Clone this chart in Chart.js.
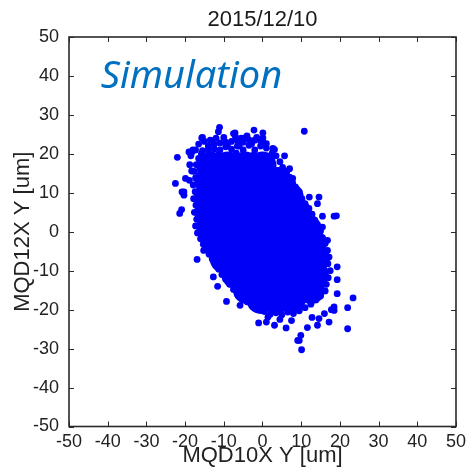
<!DOCTYPE html>
<html>
<head>
<meta charset="utf-8">
<script src="https://cdn.jsdelivr.net/npm/chart.js@4/dist/chart.umd.min.js"></script>
<style>
  html, body { margin: 0; padding: 0; background: #ffffff; }
  #wrap { width: 471px; height: 473px; }
</style>
</head>
<body>
<div id="wrap"><canvas id="c" width="471" height="473"></canvas></div>
<script>
// ---- Data ----
const chartTitle = '2015/12/10';
const annotationText = 'Simulation';
const xAxisLabel = 'MQD10X Y [um]';
const yAxisLabel = 'MQD12X Y [um]';
const tickValues = [-50, -40, -30, -20, -10, 0, 10, 20, 30, 40, 50];

// dense core of the cloud (solid region)
const corePoints = [
  [-13.5,17],[-9,17],[-4.5,17],[0,17],
  [-14,13],[-9.5,13],[-5,13],[-0.5,13],[4,13],
  [-14,9],[-9.5,9],[-5,9],[-0.5,9],[4,9],[7,9],
  [-14,5],[-9.5,5],[-5,5],[-0.5,5],[4,5],[9,5],
  [-13.5,1],[-9,1],[-4.5,1],[0,1],[4.5,1],[9,1],[11.5,1],
  [-12,-3],[-7.5,-3],[-3,-3],[1.5,-3],[6,-3],[10.5,-3],[13,-3],
  [-10,-7],[-5.5,-7],[-1,-7],[3.5,-7],[8,-7],[12.5,-7],[13.8,-7],
  [-7,-11],[-2.5,-11],[2,-11],[6.5,-11],[11,-11],[13.5,-11],
  [-4,-15],[0.5,-15],[5,-15],[9.5,-15],[12.5,-15],
  [-0.5,-17.5],[3.5,-17.5],[7.5,-17.5]
];

// points along the edge of the dense region
const edgePoints = [
  [-15.5,20.8],[-14,22],[-12.5,21.2],[-11,22.8],[-9.5,21.8],[-8,23.2],[-6.5,22],[-5,23],[-3.5,22.2],[-2,23.5],[-0.5,22],[1,21.5],[2.5,20.2],
  [-11.2,20],[-6.8,20.2],[-2.2,19.8],[-15.5,18.5],
  [-14,21],[-12.5,22.4],[-11,21],[-9.5,23],[-8,21.2],[-6.5,23.4],[-5,21],[-3.5,23.6],[-2,21],[-0.5,23.3],[1,22.6],
  [-13,23.4],[-12,24],[-10,24.2],[-9,22.5],[-7,24.4],[-5.5,24],[-4,24.6],[-2.8,22.6],[-1.5,24.2],[-6,22],
  [-18.5,19.5],[-18,21],[-16.5,22.5],[-15,23.2],[-18.8,17.2],[-18.3,15.6],[-18.9,13.2],
  [3.5,19.5],[4.5,18],[5.2,16.5],[6.3,15.5],[7,14],[7.8,12.5],[8.5,11.5],[9.5,10.2],[10.2,8.5],[11,7.2],[12,6],[12.8,4.5],[13.5,3],[14.2,1.8],[15,0.2],[15.5,-1.5],
  [16.2,-3],[16.8,-4.8],[17.2,-6.5],[16.9,-8.2],[17.5,-10],[17,-11.8],[16.5,-13.5],[16.2,-15.2],
  [15,-16.5],[13.8,-17.5],[12.5,-18.6],[11,-19.5],[9.5,-20.3],[8,-21],[6.5,-20.6],[5,-21.3],[3.5,-20.8],[2,-21.2],[0.5,-20.5],[-1,-20],
  [-2.5,-19.2],[-4,-18],[-5.2,-17],[-6.5,-16],[-7.5,-14.8],[-8.5,-13.5],[-9.5,-12.2],[-10.5,-11],[-11.3,-9.6],[-12.2,-8.3],[-13,-7],[-13.8,-5.8],[-14.5,-4.5],[-15.3,-3.2],[-16,-1.8],[-16.8,-0.3],
  [-17.3,1.5],[-17,3.2],[-17.6,5],[-17.2,6.8],[-17.8,8.5],[-17.4,10.3],[-17.9,12],[-17.3,13.8],[-17.6,15.5],[-17.1,17.2],[-16.5,18.8],[-15.8,20]
];

// scattered outliers around the cloud
const outlierPoints = [
  [10.8,25.8],[-11.1,26.8],[-11.4,25.7],[-2.2,26.1],[0.1,25.4],[-7.1,25.4],[-15.5,24.2],[-15.7,24.1],[-13.5,23.5],[-7.5,25.2],[-4.6,24.1],[0.1,23.1],[0.1,24.1],
  [-22.0,19.1],[-22.5,12.4],[-20.9,5.7],[-21.4,4.7],[-20.3,10.2],[-20.8,10.2],[-20.3,9.4],[-18.2,20.5],[-19,20.5],[-17.3,21],[-19.9,13.7],
  [5.7,19.5],[3.1,21.1],[2.7,21.4],[7,16.2],[7.8,13.7],[12.1,8.9],[14.6,8.9],[14.2,7.2],[18.5,4.0],[19.1,4.1],[15.5,4.0],[15.5,1.2],[16.8,-2.2],
  [-16.9,-7.1],[-15.2,-4.8],[-12.7,-11.6],[-11.6,-14.0],[-9.3,-17.9],[-5.8,-18.9],
  [-1.0,-23.4],[1.0,-23.2],[1.4,-21.9],[3.1,-24],[4.5,-22.5],[6.1,-24.7],[7.5,-22.8],[9.9,-26.6],[9.5,-27.9],[9.1,-27.9],[10.1,-30.3],[11.6,-24.6],
  [12.8,-22.0],[14.2,-24],[14.6,-22.3],[16,-21],[17.8,-20],[17.2,-23.2],[22.0,-24.9],[22.0,-19.5],[23.4,-17.0],[18.5,-19.3],[18.5,-20.2],
  [19.3,-15.9],[19.3,-12.3],[19.3,-9.0]
];

const toXY = arr => arr.map(p => ({ x: p[0], y: p[1] }));
const BLUE = '#0000f6';
const FONT = '"Liberation Sans", Arial, sans-serif';

const framePlugin = {
  id: 'frame',
  afterDraw(chart) {
    const ctx = chart.ctx;
    const a = chart.chartArea;
    const xs = chart.scales.x, ys = chart.scales.y;
    ctx.save();
    ctx.strokeStyle = '#2a2a2a';
    ctx.lineWidth = 1;
    const tl = 5;
    ctx.beginPath();
    tickValues.forEach(v => {
      const px = Math.round(xs.getPixelForValue(v)) + 0.5;
      ctx.moveTo(px, a.bottom); ctx.lineTo(px, a.bottom - tl);
      ctx.moveTo(px, a.top); ctx.lineTo(px, a.top + tl);
      const py = Math.round(ys.getPixelForValue(v)) + 0.5;
      ctx.moveTo(a.left, py); ctx.lineTo(a.left + tl, py);
      ctx.moveTo(a.right, py); ctx.lineTo(a.right - tl, py);
    });
    ctx.stroke();
    ctx.lineWidth = 1.6;
    ctx.strokeRect(a.left, a.top, a.right - a.left, a.bottom - a.top);
    // title
    ctx.fillStyle = '#1a1a1a';
    ctx.font = '22px ' + FONT;
    ctx.textAlign = 'center';
    ctx.textBaseline = 'alphabetic';
    ctx.fillText(chartTitle, (a.left + a.right) / 2, 26);
    // annotation
    ctx.fillStyle = '#0070c0';
    ctx.font = 'italic 38px "Noto Sans", "Open Sans", sans-serif';
    ctx.textAlign = 'left';
    ctx.fillText(annotationText, xs.getPixelForValue(-41.8), ys.getPixelForValue(36.9));
    ctx.restore();
  }
};

new Chart(document.getElementById('c'), {
  type: 'scatter',
  data: {
    datasets: [
      { data: toXY(corePoints), backgroundColor: BLUE, borderColor: BLUE, borderWidth: 0, pointRadius: 14 },
      { data: toXY(edgePoints), backgroundColor: BLUE, borderColor: BLUE, borderWidth: 0, pointRadius: 3.4 },
      { data: toXY(outlierPoints), backgroundColor: BLUE, borderColor: BLUE, borderWidth: 0, pointRadius: 3.4 }
    ]
  },
  options: {
    responsive: false,
    animation: false,
    events: [],
    layout: { padding: { top: 37, right: 11.5, left: 0, bottom: 0 } },
    plugins: { legend: { display: false }, title: { display: false }, tooltip: { enabled: false } },
    scales: {
      x: {
        type: 'linear', min: -50, max: 50,
        afterFit(s) { s.height = 46.5; },
        afterBuildTicks(s) { s.ticks = tickValues.map(v => ({ value: v })); },
        grid: { display: false, drawTicks: false },
        border: { display: false },
        ticks: { padding: 5, color: '#222', font: { family: FONT, size: 18 }, maxRotation: 0, autoSkip: false },
        title: { display: true, text: xAxisLabel, color: '#222', font: { family: FONT, size: 22 }, padding: { top: 0, bottom: 4 } }
      },
      y: {
        type: 'linear', min: -50, max: 50,
        afterFit(s) { s.width = 69; },
        afterBuildTicks(s) { s.ticks = tickValues.map(v => ({ value: v })); },
        grid: { display: false, drawTicks: false },
        border: { display: false },
        ticks: { padding: 10, color: '#222', font: { family: FONT, size: 18 }, autoSkip: false },
        title: { display: true, text: yAxisLabel, color: '#222', font: { family: FONT, size: 22 }, padding: { top: 10, bottom: 0 } }
      }
    }
  },
  plugins: [framePlugin]
});
</script>
</body>
</html>
